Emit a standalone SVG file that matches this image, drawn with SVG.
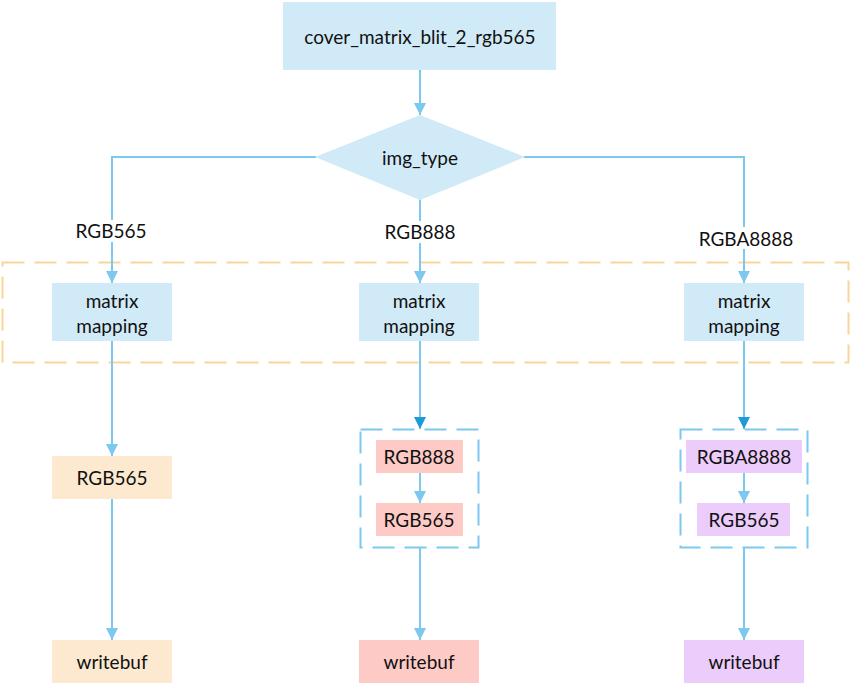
<svg xmlns="http://www.w3.org/2000/svg" width="852" height="685" viewBox="0 0 852 685">
<defs>
<style>
.t{font-family:Lato,"Open Sans","Liberation Sans",sans-serif;font-size:19px;fill:#111;text-anchor:middle;dominant-baseline:central}
.b{fill:#D1EAF7}
.o{fill:#FDE9CF}
.p{fill:#FDCAC6}
.v{fill:#EBCCFA}
.ln{stroke:#7CC8EE;stroke-width:2;fill:none}
</style>
<marker id="a" viewBox="0 0 10 10" refX="10" refY="5" markerWidth="6" markerHeight="6" markerUnits="strokeWidth" orient="auto"><path d="M0,0L10,5L0,10z" fill="#7CC8EE"/></marker>
<marker id="d" viewBox="0 0 10 10" refX="10" refY="5" markerWidth="6" markerHeight="6" markerUnits="strokeWidth" orient="auto"><path d="M0,0L10,5L0,10z" fill="#1E9BD7"/></marker>
</defs>
<g id="groups">
<rect x="2.5" y="262.5" width="846" height="100" fill="none" stroke="#FAD59A" stroke-width="2" stroke-dasharray="22,10"/>
<rect x="360.5" y="429.5" width="118" height="118" fill="none" stroke="#7CC8EE" stroke-width="2" stroke-dasharray="22,10"/>
<rect x="680.5" y="429.5" width="127" height="118" fill="none" stroke="#7CC8EE" stroke-width="2" stroke-dasharray="22,10"/>
</g>
<g id="connectors">
<line class="ln" x1="420" y1="70" x2="420" y2="115" marker-end="url(#a)"/>
<polyline class="ln" points="316,157 112,157 112,283" marker-end="url(#a)"/>
<line class="ln" x1="420" y1="199" x2="420" y2="283" marker-end="url(#a)"/>
<polyline class="ln" points="524,157 744,157 744,283" marker-end="url(#a)"/>
<line class="ln" x1="112" y1="341" x2="112" y2="456" marker-end="url(#a)"/>
<line class="ln" x1="420" y1="341" x2="420" y2="429" marker-end="url(#d)"/>
<line class="ln" x1="744" y1="341" x2="744" y2="429" marker-end="url(#d)"/>
<line class="ln" x1="420" y1="473" x2="420" y2="503" marker-end="url(#a)"/>
<line class="ln" x1="744" y1="473" x2="744" y2="503" marker-end="url(#a)"/>
<line class="ln" x1="112" y1="499" x2="112" y2="640" marker-end="url(#a)"/>
<line class="ln" x1="420" y1="547" x2="420" y2="640" marker-end="url(#a)"/>
<line class="ln" x1="744" y1="547" x2="744" y2="640" marker-end="url(#a)"/>
<rect x="76" y="220" width="70" height="22" fill="#fff"/>
<text class="t" x="111" y="230">RGB565</text>
<rect x="384" y="221" width="72" height="22" fill="#fff"/>
<text class="t" x="420" y="231">RGB888</text>
<rect x="700" y="227" width="93" height="22" fill="#fff"/>
<text class="t" x="746" y="238">RGBA8888</text>
</g>
<g id="start"><rect class="b" x="283" y="2" width="273" height="68"/><text class="t" x="420" y="36">cover_matrix_blit_2_rgb565</text></g>
<g id="img_type"><polygon class="b" points="420,115 525,157 420,200 315,157"/><text class="t" x="420" y="157">img_type</text></g>
<g id="mm1"><rect class="b" x="52" y="283" width="120" height="58"/><text class="t" x="112" y="300">matrix</text><text class="t" x="112" y="325">mapping</text></g>
<g id="mm2"><rect class="b" x="359" y="283" width="120" height="58"/><text class="t" x="419" y="300">matrix</text><text class="t" x="419" y="325">mapping</text></g>
<g id="mm3"><rect class="b" x="684" y="283" width="120" height="58"/><text class="t" x="744" y="300">matrix</text><text class="t" x="744" y="325">mapping</text></g>
<g id="l565"><rect class="o" x="52" y="456" width="120" height="43"/><text class="t" x="112" y="477">RGB565</text></g>
<g id="m888"><rect class="p" x="376" y="440" width="87" height="33"/><text class="t" x="419" y="456">RGB888</text></g>
<g id="m565"><rect class="p" x="376" y="503" width="87" height="33"/><text class="t" x="419" y="519">RGB565</text></g>
<g id="r8888"><rect class="v" x="686" y="440" width="116" height="33"/><text class="t" x="744" y="456">RGBA8888</text></g>
<g id="r565"><rect class="v" x="697" y="503" width="93" height="33"/><text class="t" x="744" y="519">RGB565</text></g>
<g id="wb1"><rect class="o" x="52" y="640" width="120" height="43"/><text class="t" x="112" y="661">writebuf</text></g>
<g id="wb2"><rect class="p" x="359" y="640" width="120" height="43"/><text class="t" x="419" y="661">writebuf</text></g>
<g id="wb3"><rect class="v" x="684" y="640" width="120" height="43"/><text class="t" x="744" y="661">writebuf</text></g>
</svg>
